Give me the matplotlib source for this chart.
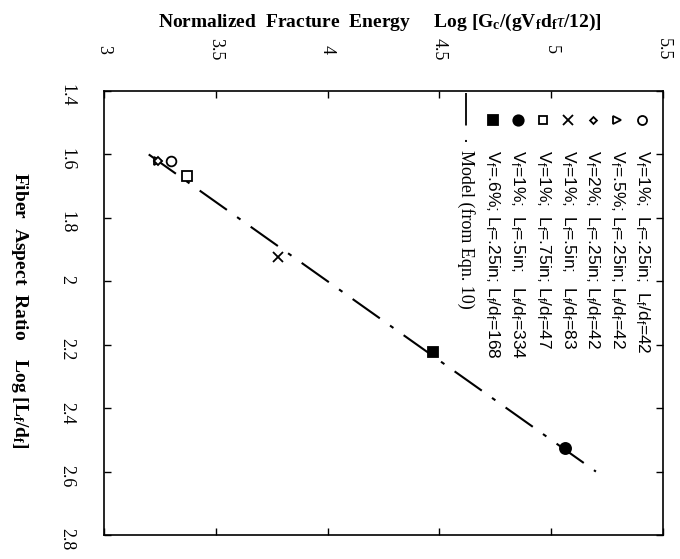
import matplotlib
matplotlib.use("Agg")
import matplotlib.pyplot as plt

plt.rcParams['font.family'] = ['Liberation Serif', 'DejaVu Serif']
plt.rcParams['mathtext.fontset'] = 'custom'
plt.rcParams['mathtext.rm'] = 'Liberation Serif'
plt.rcParams['mathtext.it'] = 'Liberation Serif:italic'
plt.rcParams['mathtext.bf'] = 'Liberation Serif:bold'
plt.rcParams['mathtext.sf'] = 'Liberation Sans'

# data: x = normalized fracture energy, y = fiber aspect ratio (both log)
labels = [r'V$_\mathsf{f}$=1%;  L$_\mathsf{f}$=.25in;  L$_\mathsf{f}$/d$_\mathsf{f}$=42',
          r'V$_\mathsf{f}$=.5%; L$_\mathsf{f}$=.25in; L$_\mathsf{f}$/d$_\mathsf{f}$=42',
          r'V$_\mathsf{f}$=2%;  L$_\mathsf{f}$=.25in; L$_\mathsf{f}$/d$_\mathsf{f}$=42',
          r'V$_\mathsf{f}$=1%;  L$_\mathsf{f}$=.5in;   L$_\mathsf{f}$/d$_\mathsf{f}$=83',
          r'V$_\mathsf{f}$=1%;  L$_\mathsf{f}$=.75in; L$_\mathsf{f}$/d$_\mathsf{f}$=47',
          r'V$_\mathsf{f}$=1%;  L$_\mathsf{f}$=.5in;   L$_\mathsf{f}$/d$_\mathsf{f}$=334',
          r'V$_\mathsf{f}$=.6%; L$_\mathsf{f}$=.25in; L$_\mathsf{f}$/d$_\mathsf{f}$=168']
energy = [3.30, 3.24, 3.24, 3.78, 3.37, 5.06, 4.47]
aspect = [1.622, 1.622, 1.622, 1.922, 1.669, 2.525, 2.222]
markers = ['o', '>', 'D', 'x', 's', 'o', 's']
filled = [False, False, False, False, False, True, True]
msizes = [7, 6, 4, 7, 6.5, 8, 7]

model_aspect = [1.6, 2.6]
model_energy = [3.2, 5.2]
model_label = 'Model (from Eqn. 10)'

energy_ticks = [3, 3.5, 4, 4.5, 5, 5.5]
energy_ticklabels = ['3', '3.5', '4', '4.5', '5', '5.5']
aspect_ticks = [1.4, 1.6, 1.8, 2.0, 2.2, 2.4, 2.6, 2.8]
aspect_ticklabels = ['1.4', '1.6', '1.8', '2', '2.2', '2.4', '2.6', '2.8']

dashes = (16, 6, 2, 6)

fig = plt.figure(figsize=(6.8, 5.59), dpi=100)
ax = fig.add_axes([104/680, 1-535/559, 559/680, 444/559])

ax.plot(model_energy, model_aspect, color='black', lw=1.5, dashes=dashes)
for e, a, m, f, s in zip(energy, aspect, markers, filled, msizes):
    ax.plot([e], [a], linestyle='none', marker=m, markersize=s,
            markerfacecolor='black' if f else 'white', markeredgecolor='black',
            markeredgewidth=1.3, zorder=3)

ax.set_xlim(3, 5.5)
ax.set_ylim(2.8, 1.4)
ax.set_xticks(energy_ticks)
ax.set_xticklabels(energy_ticklabels)
ax.set_yticks(aspect_ticks)
ax.set_yticklabels(aspect_ticklabels)
ax.xaxis.set_ticks_position('both')
ax.yaxis.set_ticks_position('both')
ax.tick_params(direction='in', length=5, width=1, labelsize=13,
               labeltop=True, labelbottom=False, labelleft=True, labelright=False)
ax.tick_params(axis='x', labelrotation=-90, pad=30)
ax.tick_params(axis='y', labelrotation=-90, pad=27)
for t in ax.xaxis.get_major_ticks():
    t.label2.set_verticalalignment('center')
for t in ax.yaxis.get_major_ticks():
    t.label1.set_horizontalalignment('center')
for sp in ax.spines.values():
    sp.set_linewidth(1.2)

# legend drawn by hand, rotated like the rest of the chart
row_x = [0.962, 0.918, 0.874, 0.830, 0.785, 0.740, 0.695]
mark_y = 0.935
text_y = 0.868
for i in range(len(labels)):
    ax.plot([row_x[i]], [mark_y], transform=ax.transAxes, linestyle='none',
            marker=markers[i], markersize=msizes[i] - 0.5,
            markerfacecolor='black' if filled[i] else 'white',
            markeredgecolor='black', markeredgewidth=1.3, clip_on=False)
    ax.text(row_x[i], text_y, labels[i], transform=ax.transAxes, rotation=-90,
            ha='center', va='top', fontsize=12.5, family='Liberation Sans')
line_x = 0.648
ax.plot([line_x, line_x], [0.995, 0.885], transform=ax.transAxes,
        color='black', lw=1.3, dashes=(18, 8, 3, 8))
ax.text(line_x, text_y, model_label, transform=ax.transAxes, rotation=-90,
        ha='center', va='top', fontsize=13)

fig.text(0.559, 0.96,
         r'Normalized  Fracture  Energy     Log [G$_\mathbf{c}$/(gV$_\mathbf{f}$d$_\mathbf{f}$$\tau$/12)]',
         ha='center', va='center', fontsize=14, fontweight='bold')
fig.text(0.028, 0.444, r'Fiber  Aspect  Ratio    Log [L$_\mathbf{f}$/d$_\mathbf{f}$]',
         rotation=-90, ha='center', va='center', fontsize=14, fontweight='bold')

fig.savefig('out.png', dpi=100)
